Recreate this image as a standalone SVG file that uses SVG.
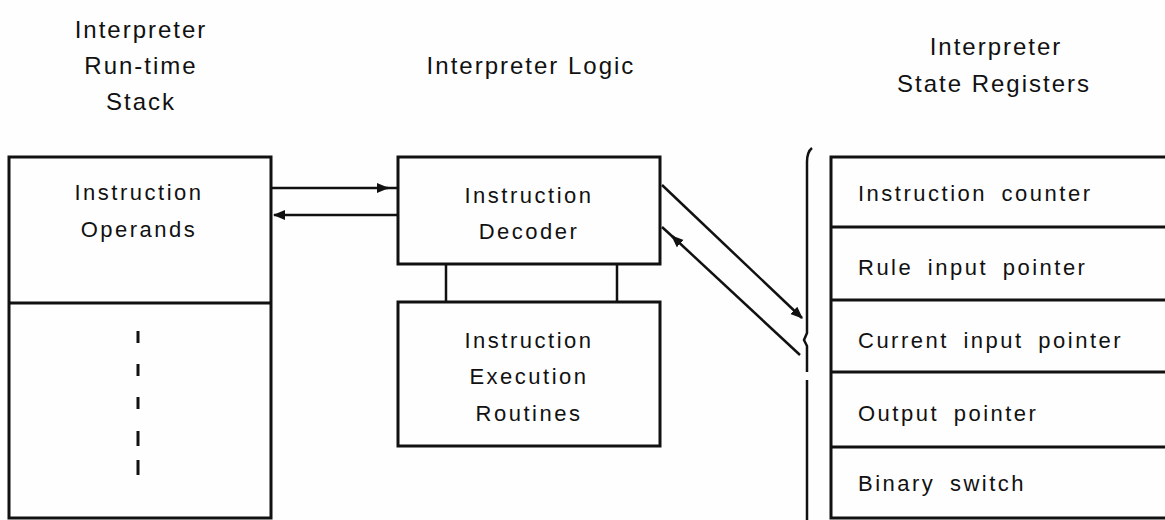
<svg xmlns="http://www.w3.org/2000/svg" width="1165" height="520" viewBox="0 0 1165 520">
<style>
.bg{fill:#fefefe}
.box{fill:none;stroke:#111;stroke-width:3}
.ln{fill:none;stroke:#111;stroke-width:2.5}
.hd{font-family:"Liberation Sans",Arial,sans-serif;font-size:24px;letter-spacing:2px;fill:#111;text-anchor:middle}
.tx{font-family:"Liberation Sans",Arial,sans-serif;font-size:22px;letter-spacing:2.5px;fill:#111;text-anchor:middle}
.rg{font-family:"Liberation Sans",Arial,sans-serif;font-size:22px;letter-spacing:2.5px;word-spacing:6px;fill:#111}
.dash{stroke:#111;stroke-width:3}
</style>
<defs>
<marker id="ah" viewBox="0 0 10 10" refX="9" refY="5" markerWidth="5" markerHeight="5" orient="auto" markerUnits="strokeWidth">
<path d="M0,1 L10,5 L0,9 z" fill="#111"/>
</marker>
</defs>
<rect class="bg" x="0" y="0" width="1165" height="520"/>

<g id="headers">
<text class="hd" x="141" y="38">Interpreter</text>
<text class="hd" x="141" y="74">Run-time</text>
<text class="hd" x="141" y="110">Stack</text>
<text class="hd" x="531" y="74">Interpreter Logic</text>
<text class="hd" x="996" y="55">Interpreter</text>
<text class="hd" x="994" y="92">State Registers</text>
</g>

<g id="stack">
<rect class="box" x="9" y="157" width="262" height="361"/>
<line class="box" x1="9" y1="303" x2="271" y2="303"/>
<text class="tx" x="139" y="200">Instruction</text>
<text class="tx" x="139" y="237">Operands</text>
<line class="dash" x1="138" y1="331" x2="138" y2="343"/>
<line class="dash" x1="138" y1="364" x2="138" y2="376"/>
<line class="dash" x1="138" y1="397" x2="138" y2="409"/>
<line class="dash" x1="138" y1="431" x2="138" y2="446"/>
<line class="dash" x1="138" y1="460" x2="138" y2="475"/>
</g>

<g id="decoder">
<rect class="box" x="398" y="157" width="262" height="107"/>
<text class="tx" x="529" y="203">Instruction</text>
<text class="tx" x="529" y="239">Decoder</text>
</g>

<g id="execution">
<rect class="box" x="398" y="302" width="262" height="144"/>
<text class="tx" x="529" y="348">Instruction</text>
<text class="tx" x="529" y="384">Execution</text>
<text class="tx" x="529" y="421">Routines</text>
</g>

<g id="registers">
<path class="box" d="M1165,157 L831,157 L831,518 L1165,518"/>
<line class="box" x1="831" y1="227" x2="1165" y2="227"/>
<line class="box" x1="831" y1="300" x2="1165" y2="300"/>
<line class="box" x1="831" y1="372" x2="1165" y2="372"/>
<line class="box" x1="831" y1="447" x2="1165" y2="447"/>
<text class="rg" x="858" y="201">Instruction counter</text>
<text class="rg" x="858" y="275">Rule input pointer</text>
<text class="rg" x="858" y="348">Current input pointer</text>
<text class="rg" x="858" y="421">Output pointer</text>
<text class="rg" x="858" y="491">Binary switch</text>
</g>

<g id="bracket">
<path class="ln" d="M812,148 Q807,152 807,162 L807,333 L804,340 L807,346 L807,372 M807,380 L807,520"/>
</g>

<g id="connectors">
<line class="ln" x1="446" y1="264" x2="446" y2="302"/>
<line class="ln" x1="617" y1="264" x2="617" y2="302"/>
<line class="ln" x1="271" y1="188" x2="388" y2="188" marker-end="url(#ah)"/>
<line class="ln" x1="398" y1="188" x2="385" y2="188"/>
<line class="ln" x1="398" y1="215" x2="274" y2="215" marker-end="url(#ah)"/>
<line class="ln" x1="662" y1="185" x2="802" y2="318" marker-end="url(#ah)"/>
<line class="ln" x1="800" y1="355" x2="672" y2="236" marker-end="url(#ah)"/>
<line class="ln" x1="674" y1="238" x2="662" y2="227"/>
</g>
</svg>
